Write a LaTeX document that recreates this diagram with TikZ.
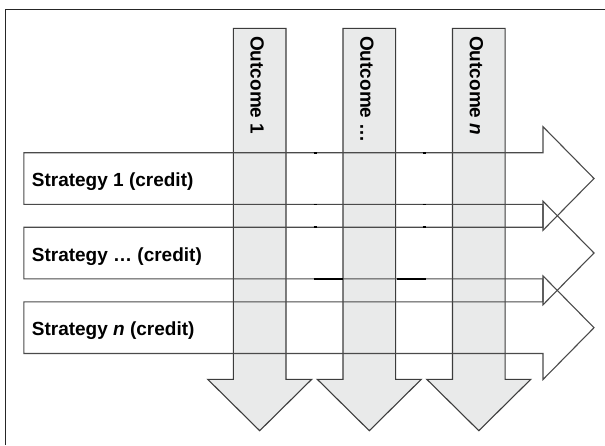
\documentclass[tikz,border=0pt]{standalone}
\usepackage{fontspec}
\setmainfont{Liberation Sans}
\begin{document}
\begin{tikzpicture}[x=1pt,y=-1pt,
  colfill/.style={fill=colgray,draw=linegray,line width=1.1pt,line join=miter},
  rowline/.style={draw=rowgray,line width=1.1pt},
  lbl/.style={font=\fontsize{19}{22}\selectfont\bfseries,inner sep=0pt,text=black},
  tick/.style={draw=black,line width=1.6pt}]
\definecolor{colgray}{HTML}{E9EAEA}
\definecolor{linegray}{HTML}{3C3C3C}
\definecolor{rowgray}{HTML}{4A4A4A}
\useasboundingbox (0,0) rectangle (605,445);
\fill[white] (0,0) rectangle (605,445);
% frame
\draw[draw=black!85,line width=1.3pt] (5.3,445) -- (5.3,9.3) -- (605,9.3);
% horizontal arrows fill
\foreach \cy in {178.5,253,327.7}{
  \fill[white] (23.9,\cy-25.8) -- (543,\cy-25.8) -- (543,\cy-51.8) -- (594,\cy)
    -- (543,\cy+51.8) -- (543,\cy+25.8) -- (23.9,\cy+25.8) -- cycle;
}
% vertical arrows
\foreach \cx in {259.7,369.3,478.8}{
  \path[colfill] (\cx-26.3,28.3) -- (\cx+26.3,28.3) -- (\cx+26.3,379.3) -- (\cx+52,379.3)
    -- (\cx,430.7) -- (\cx-52,379.3) -- (\cx-26.3,379.3) -- cycle;
}
% horizontal arrows outlines
\foreach \cy in {178.5,253,327.7}{
  \path[rowline] (23.9,\cy-25.8) -- (543,\cy-25.8) -- (543,\cy-51.8) -- (594,\cy)
    -- (543,\cy+51.8) -- (543,\cy+25.8) -- (23.9,\cy+25.8) -- cycle;
}
% small artefact marks
\foreach \yy in {152.7,204.3,227}{
  \draw[tick] (313.5,\yy) -- (316.5,\yy);
  \draw[tick] (422.5,\yy) -- (425.5,\yy);
}
\draw[tick] (313.5,278.7) -- (343,278.7);
\draw[tick] (396.5,278.7) -- (425.9,278.7);
% labels
\node[lbl,anchor=base west] (s1) at (31.7,186.5) {Strategy 1 (credit)};
\node[lbl,anchor=base west] (s2) at (31.7,261) {Strategy … (credit)};
\node[lbl,anchor=base west] (s3) at (31.7,335.7) {Strategy \textit{n} (credit)};
\node[lbl,rotate=-90,anchor=base west] (o1) at (250.7,36) {Outcome 1};
\node[lbl,rotate=-90,anchor=base west] (o2) at (360.3,36) {Outcome …};
\node[lbl,rotate=-90,anchor=base west] (o3) at (469.8,36) {Outcome \textit{n}};
\end{tikzpicture}
\end{document}
